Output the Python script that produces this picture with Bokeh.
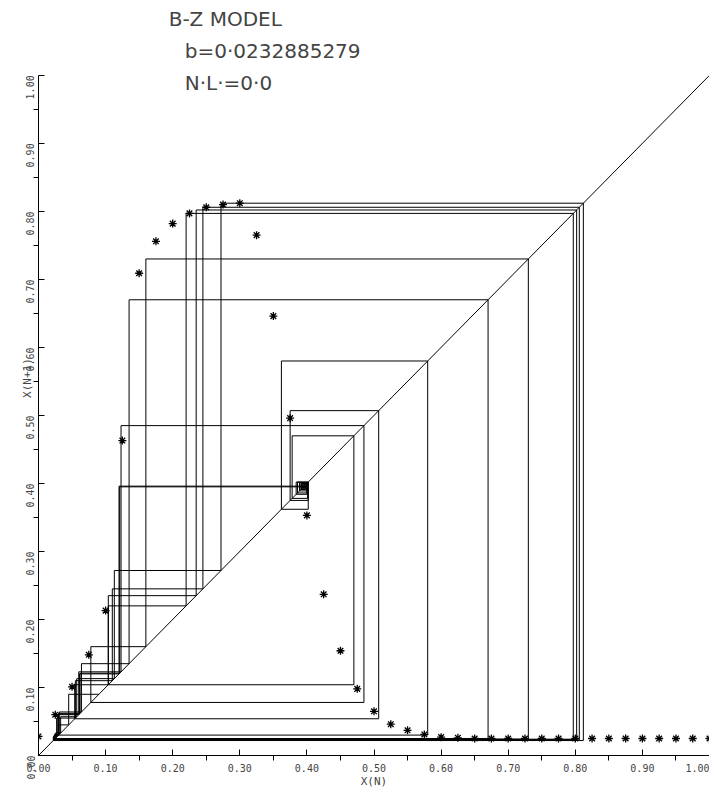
import math
import numpy as np
from bokeh.plotting import figure
from bokeh.models import Range1d, Label, FixedTicker, CustomJSTickFormatter
from bokeh.embed import file_html
from bokeh.resources import INLINE

# sampled map values (asterisks)
map_x = [i * 0.025 for i in range(41)]
map_y = [0.028, 0.060, 0.101, 0.148, 0.213, 0.463, 0.709, 0.756, 0.782, 0.797,
         0.806, 0.810, 0.812, 0.765, 0.646, 0.496, 0.353, 0.237, 0.154, 0.098,
         0.065, 0.046, 0.037, 0.031, 0.027, 0.026, 0.025, 0.025, 0.025, 0.025,
         0.025, 0.025, 0.025, 0.025, 0.025, 0.025, 0.025, 0.025, 0.025, 0.025, 0.025]

# orbit used for the cobweb
orbit = [0.396, 0.394, 0.398, 0.391, 0.400, 0.386, 0.402, 0.375, 0.507, 0.054,
         0.104, 0.220, 0.797, 0.023, 0.029, 0.060, 0.123, 0.485, 0.078, 0.160,
         0.730, 0.024, 0.031, 0.064, 0.135, 0.670, 0.025, 0.033, 0.057, 0.113,
         0.272, 0.812, 0.022, 0.027, 0.055, 0.110, 0.245, 0.806, 0.023, 0.029,
         0.061, 0.120, 0.396, 0.393, 0.399, 0.389, 0.401, 0.378, 0.470, 0.104,
         0.235, 0.802, 0.024, 0.030, 0.062, 0.121, 0.395, 0.397, 0.392, 0.400,
         0.384, 0.402, 0.362, 0.580, 0.030, 0.045, 0.090]

diag = [0.0, 1.0]
ticks = [0.0, 0.1, 0.2, 0.3, 0.4, 0.5, 0.6, 0.7, 0.8, 0.9, 1.0]

o = np.array(orbit)
cx = np.repeat(o, 2)[:-1]
cy = np.repeat(o, 2)[1:]

p = figure(frame_width=671, frame_height=755, output_backend="svg", toolbar_location=None,
           x_range=Range1d(0, 1.0), y_range=Range1d(0, 1.11),
           min_border_left=38, min_border_right=0, min_border_top=0, min_border_bottom=0)
p.outline_line_color = None
p.grid.visible = False
p.background_fill_color = "white"

p.line(diag, diag, line_color="black", line_width=1)
p.line(cx, cy, line_color="black", line_width=1)
p.scatter(map_x, map_y, marker="asterisk", size=8, line_color="black", line_width=1.3)

fmt = CustomJSTickFormatter(code="return tick.toFixed(2);")
for ax in (p.xaxis[0], p.yaxis[0]):
    ax.ticker = FixedTicker(ticks=ticks, minor_ticks=[t + 0.05 for t in ticks[:-1]])
    ax.formatter = fmt
    ax.axis_line_color = "black"
    ax.major_tick_in = 6
    ax.major_tick_out = 0
    ax.minor_tick_in = 0
    ax.minor_tick_out = 5
    ax.major_label_text_font = "DejaVu Sans Mono"
    ax.major_label_text_font_size = "10px"
    ax.major_label_standoff = 3
p.yaxis.bounds = (0, 1.0)
p.yaxis.major_label_orientation = math.pi / 2
p.xaxis.axis_label = "X(N)"
p.yaxis.axis_label = "X(N+1)"
for ax in (p.xaxis[0], p.yaxis[0]):
    ax.axis_label_text_font = "DejaVu Sans Mono"
    ax.axis_label_text_font_style = "normal"
    ax.axis_label_text_font_size = "11px"
p.xaxis.axis_label_standoff = 0
p.yaxis.axis_label_standoff = -14

for txt, xx, yy in [("B-Z MODEL", 0.194, 1.100), ("b=0·0232885279", 0.218, 1.053), ("N·L·=0·0", 0.218, 1.006)]:
    p.add_layout(Label(x=xx, y=yy, text=txt,
                       text_font="DejaVu Sans", text_font_size="20px", text_baseline="top"))

open("out.html", "w").write(file_html(p, INLINE))
